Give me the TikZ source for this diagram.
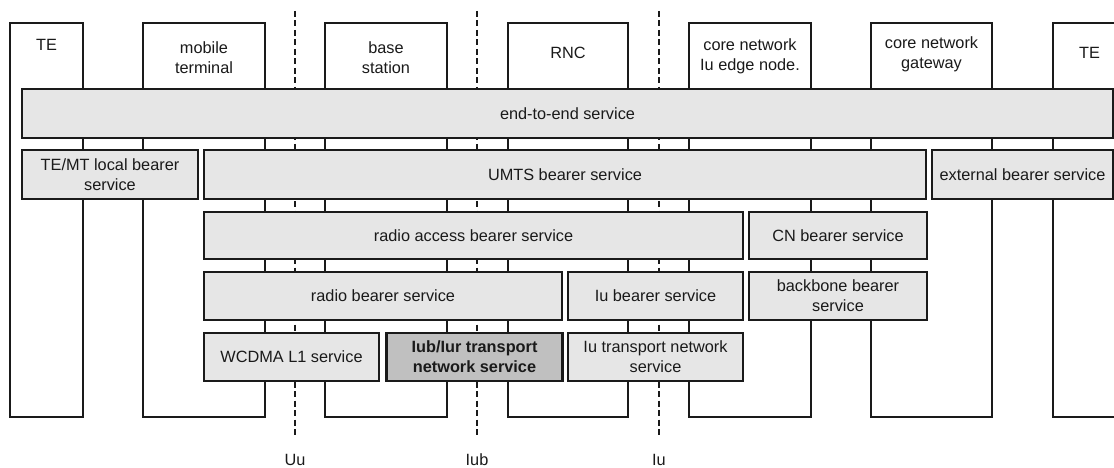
\documentclass[tikz,border=0pt]{standalone}
\usepackage{fontspec}
\setmainfont{Liberation Sans}
\usetikzlibrary{positioning}
\definecolor{linegray}{HTML}{1A1A1A}
\definecolor{svcgray}{HTML}{E6E6E6}
\definecolor{tngray}{HTML}{C0C0C0}
\tikzset{
  C/.style={draw=linegray, fill=white, line width=1.3pt, inner sep=0pt},
  T/.style={align=center, font=\fontsize{16.3}{20}\selectfont, text=linegray, inner sep=0pt},
  S/.style={draw=linegray, fill=svcgray, line width=1.3pt, inner sep=0pt,
    align=center, font=\fontsize{16.3}{20}\selectfont, text=linegray},
  SX/.style={S, fill=tngray, line width=2.4pt, font=\fontsize{16.3}{20}\selectfont\bfseries},
  I/.style={draw=linegray, line width=2pt, dash pattern=on 6pt off 3.5pt},
}

\begin{document}
\begin{tikzpicture}[x=1pt, y=-1pt]
\useasboundingbox (0,0) rectangle (1114,468);
\clip (0,0) rectangle (1114,468);

% ═══════════════════════════════════════════════════════════════
% network elements (tall columns behind the bearer services)
% ═══════════════════════════════════════════════════════════════
\node[C, minimum width=73pt,  minimum height=394pt] at (46.5,220)  (te1) {};
\node[C, minimum width=122pt, minimum height=394pt] at (204,220)   (mt) {};
\node[C, minimum width=122pt, minimum height=394pt] at (386,220)   (bs) {};
\node[C, minimum width=120pt, minimum height=394pt] at (568,220)   (rnc) {};
\node[C, minimum width=122pt, minimum height=394pt] at (750,220)   (cnedge) {};
\node[C, minimum width=121pt, minimum height=394pt] at (931.5,220) (cngw) {};
\node[C, minimum width=73pt,  minimum height=394pt] at (1089.5,220) (te2) {};

\node[T] at (46.5,45)   (te1lbl) {TE};
\node[T] at (204,58)    (mtlbl) {mobile\\terminal};
\node[T] at (386,58)    (bslbl) {base\\station};
\node[T] at (568,53)    (rnclbl) {RNC};
\node[T] at (750,56)    (cnedgelbl) {core network\\Iu edge node.};
\node[T] at (931.5,54)  (cngwlbl) {core network\\gateway};
\node[T] at (1089.5,53) (te2lbl) {TE};

% interfaces
\coordinate (uutop)  at (295,11);  \coordinate (uubot)  at (295,437);
\coordinate (iubtop) at (477,11);  \coordinate (iubbot) at (477,437);
\coordinate (iutop)  at (659,11);  \coordinate (iubot)  at (659,437);
\draw[I] (uutop) -- (uubot);
\draw[I] (iubtop) -- (iubbot);
\draw[I] (iutop) -- (iubot);

\node[T] at (295,460) (uu) {Uu};
\node[T] at (477,460) (iub) {Iub};
\node[T] at (659,460) (iu) {Iu};

% ═══════════════════════════════════════════════════════════════
% bearer service layers
% ═══════════════════════════════════════════════════════════════
\node[S, minimum width=1091pt, minimum height=49pt] at (567.5,113.5) (e2e)
  {end-to-end service};

\node[S, minimum width=176pt, minimum height=49pt] at (110,174.5) (temt)
  {TE/MT local bearer\\service};
\node[S, minimum width=722pt, minimum height=49pt] at (565,174.5) (umts)
  {UMTS bearer service};
\node[S, minimum width=181pt, minimum height=49pt] at (1022.5,174.5) (ext)
  {external bearer service};

\node[S, minimum width=539pt, minimum height=47pt] at (473.5,235.5) (rab)
  {radio access bearer service};
\node[S, minimum width=178pt, minimum height=47pt] at (838,235.5) (cnb)
  {CN bearer service};

\node[S, minimum width=358pt, minimum height=48pt] at (383,296) (rb)
  {radio bearer service};
\node[S, minimum width=175pt, minimum height=48pt] at (655.5,296) (iubear)
  {Iu bearer service};
\node[S, minimum width=178pt, minimum height=48pt] at (838,296) (bb)
  {backbone bearer\\service};

\node[S, minimum width=175pt, minimum height=48pt] at (291.5,357) (wcdma)
  {WCDMA L1 service};
\node[SX, minimum width=176pt, minimum height=48pt] at (474.5,357) (iubtn)
  {Iub/Iur transport\\network service};
\node[S, minimum width=175pt, minimum height=48pt] at (655.5,357) (iutn)
  {Iu transport network\\service};

\end{tikzpicture}
\end{document}
